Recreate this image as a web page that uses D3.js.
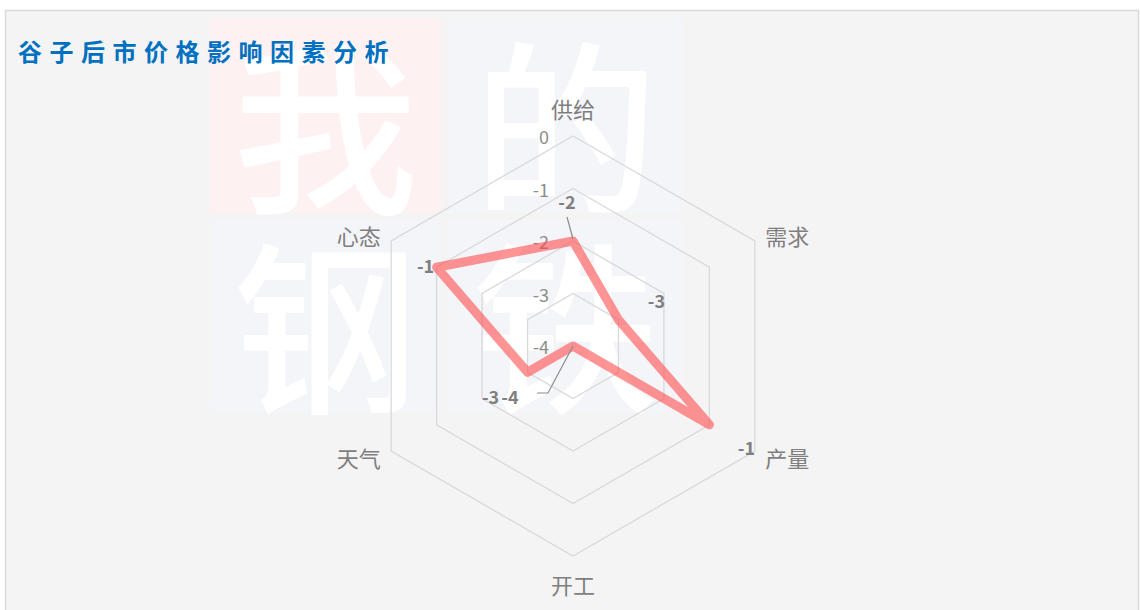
<!DOCTYPE html>
<html>
<head>
<meta charset="utf-8">
<script src="https://cdn.jsdelivr.net/npm/d3@7"></script>
<style>
  body { margin: 0; background: #ffffff; }
  svg { display: block; }
  text { font-family: "Noto Sans CJK SC", "Open Sans", sans-serif; }
</style>
</head>
<body>
<script>
"use strict";

// chart data
var categories = ["供给", "需求", "产量", "开工", "天气", "心态"];
var values = [-2, -3, -1, -4, -3, -1];
var ticks = [0, -1, -2, -3, -4];
var title = "谷子后市价格影响因素分析";
var watermark = ["我", "的", "钢", "铁"];

var width = 1140, height = 610;
var cx = 573, cy = 346, R = 210;

var svg = d3.select("body").append("svg")
    .attr("width", width)
    .attr("height", height);

// chart area background + border
svg.append("rect")
    .attr("x", 5.5).attr("y", 10.5)
    .attr("width", 1133).attr("height", 605)
    .attr("fill", "#f4f4f4")
    .attr("stroke", "#d9d9d9")
    .attr("stroke-width", 1.5);

// watermark blocks
var wmBlocks = [
    {x: 210, y: 18, w: 231, h: 195, fill: "#fdf1f1"},
    {x: 448, y: 18, w: 235, h: 195, fill: "#f3f5f9"},
    {x: 210, y: 220, w: 231, h: 193, fill: "#f3f5f9"},
    {x: 448, y: 220, w: 235, h: 193, fill: "#f3f5f9"}
];
var wm = svg.append("g");
wm.selectAll("rect").data(wmBlocks).enter().append("rect")
    .attr("x", d => d.x).attr("y", d => d.y)
    .attr("width", d => d.w).attr("height", d => d.h)
    .attr("fill", d => d.fill);
wm.selectAll("text").data(watermark).enter().append("text")
    .attr("x", (d, i) => wmBlocks[i].x + wmBlocks[i].w / 2)
    .attr("y", (d, i) => wmBlocks[i].y + wmBlocks[i].h / 2 + 2)
    .attr("text-anchor", "middle")
    .attr("dominant-baseline", "central")
    .attr("font-size", 185)
    .attr("font-weight", 500)
    .attr("fill", "#ffffff")
    .text(d => d);

// title
svg.append("text")
    .attr("x", 18).attr("y", 61)
    .attr("font-size", 24)
    .attr("font-weight", 700)
    .attr("letter-spacing", 7.5)
    .attr("fill", "#0070c0")
    .text(title);

// radial scale: -4 at centre, 0 at the outer ring
var r = d3.scaleLinear().domain([-4, 0]).range([0, R]);
var angle = d3.scaleLinear().domain([0, categories.length]).range([0, 2 * Math.PI]);

function px(i, v) { return cx + r(v) * Math.sin(angle(i)); }
function py(i, v) { return cy - r(v) * Math.cos(angle(i)); }

// grid rings
var grid = svg.append("g");
ticks.filter(t => t > -4).forEach(function(t) {
    var pts = categories.map((c, i) => [px(i, t), py(i, t)]);
    grid.append("polygon")
        .attr("points", pts.map(p => p.join(",")).join(" "))
        .attr("fill", "none")
        .attr("stroke", "#d9d9d9")
        .attr("stroke-width", 1.3);
});

// tick labels
svg.append("g").selectAll("text").data(ticks).enter().append("text")
    .attr("x", cx - 24)
    .attr("y", d => cy - r(d))
    .attr("text-anchor", "end")
    .attr("dominant-baseline", "central")
    .attr("font-size", 18)
    .attr("fill", "#8c8c8c")
    .text(d => d);

// category labels
svg.append("g").selectAll("text").data(categories).enter().append("text")
    .attr("x", function(d, i) {
        var s = Math.sin(angle(i));
        return px(i, 0) + s * 12;
    })
    .attr("y", function(d, i) {
        var c = Math.cos(angle(i));
        var gap = Math.abs(c) > 0.9 ? 28 : 12;
        return py(i, 0) - c * gap;
    })
    .attr("text-anchor", function(d, i) {
        var s = Math.sin(angle(i));
        return s > 0.1 ? "start" : (s < -0.1 ? "end" : "middle");
    })
    .attr("dominant-baseline", "central")
    .attr("font-size", 22)
    .attr("fill", "#7f7f7f")
    .text(d => d);

// data line
var line = d3.lineRadial()
    .angle((d, i) => angle(i))
    .radius(d => r(d))
    .curve(d3.curveLinearClosed);

svg.append("path")
    .datum(values)
    .attr("transform", "translate(" + cx + "," + cy + ")")
    .attr("d", line)
    .attr("fill", "none")
    .attr("stroke", "#ff4d4d")
    .attr("stroke-opacity", 0.6)
    .attr("stroke-width", 9)
    .attr("stroke-linejoin", "round")
    .attr("stroke-linecap", "round");

// data labels (offsets relative to each point)
var labelOffset = [[-6, -40], [38, -20], [37, 22], [-63, 50], [-37, 24], [-11, -2]];

// leader lines for the labels that were dragged away
var leaders = svg.append("g")
    .attr("fill", "none")
    .attr("stroke", "#8c8c8c")
    .attr("stroke-width", 1.2);
leaders.append("polyline")
    .attr("points", [[px(0, values[0]), py(0, values[0]) - 2], [px(0, values[0]) - 6, py(0, values[0]) - 24]].map(p => p.join(",")).join(" "));
leaders.append("polyline")
    .attr("points", [[px(3, values[3]), py(3, values[3])], [px(3, values[3]) - 25, py(3, values[3]) + 47], [px(3, values[3]) - 36, py(3, values[3]) + 47]].map(p => p.join(",")).join(" "));

svg.append("g").selectAll("text").data(values).enter().append("text")
    .attr("x", (d, i) => px(i, d) + labelOffset[i][0])
    .attr("y", (d, i) => py(i, d) + labelOffset[i][1])
    .attr("text-anchor", "middle")
    .attr("dominant-baseline", "central")
    .attr("font-size", 18)
    .attr("font-weight", 700)
    .attr("fill", "#7f7f7f")
    .text(d => d);
</script>
</body>
</html>
